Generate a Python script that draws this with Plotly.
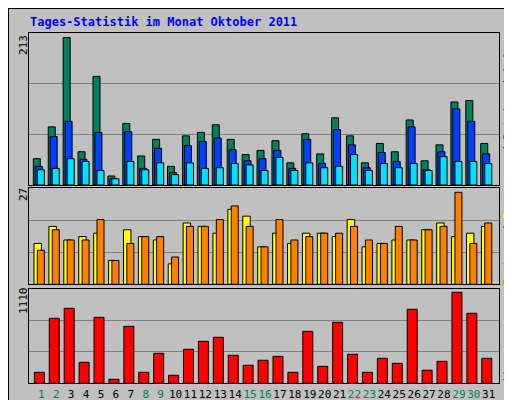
import plotly.graph_objects as go

days = list(range(1, 32))
weekend = [1, 2, 8, 9, 15, 16, 22, 23, 29, 30]
anfragen = [38,84,213,48,157,13,89,42,66,27,71,76,87,66,44,50,64,32,74,45,97,71,32,60,48,94,35,58,120,122,60]
dateien = [27,70,92,37,76,9,77,24,53,18,57,63,68,51,35,38,50,24,66,31,80,58,25,47,34,84,22,48,110,92,45]
seiten = [22,24,38,34,21,9,34,22,32,15,32,24,25,31,29,21,40,21,32,25,27,44,21,31,25,31,21,41,34,34,31]
besuche = [12,17,13,14,15,7,16,14,13,6,18,17,15,22,20,11,15,12,15,15,14,19,11,12,13,13,16,18,14,15,17]
rechner = [10,16,13,13,19,7,12,14,14,8,17,17,19,23,17,11,19,13,14,15,15,17,13,12,17,13,16,17,27,12,18]
kb = [134,793,915,256,805,49,695,134,366,98,415,512,561,342,220,281,329,134,634,207,744,354,134,305,244,903,159,268,1110,854,305]

W, H = 512, 400
def px(y): return 1 - y / H
def pxx(x): return x / W

fig = go.Figure()
line = dict(color="black", width=1)
def bars(vals, off, width, color, xa, ya):
    fig.add_trace(go.Bar(x=[d + off for d in days], y=vals, width=width,
                         marker=dict(color=color, line=line), xaxis=xa, yaxis=ya,
                         showlegend=False, hoverinfo="skip"))

bars(anfragen, -0.30, 0.47, "#00805c", "x", "y")
bars(dateien, -0.17, 0.47, "#0040ff", "x", "y")
bars(seiten, -0.03, 0.47, "#00e0ff", "x", "y")
bars(besuche, -0.24, 0.5, "#ffff00", "x2", "y2")
bars(rechner, -0.03, 0.47, "#ff8000", "x2", "y2")
bars(kb, -0.13, 0.67, "#ff0000", "x3", "y3")

xr = [0.155, 31.67]
xdom = [pxx(20.7), pxx(490.7)]
ticktext = [f'<span style="color:{"#00805c" if d in weekend else "black"}">{d}</span>' for d in days]
common_x = dict(range=xr, domain=xdom, showgrid=False, zeroline=False, showline=True,
                linecolor="black", mirror=True, fixedrange=True)
fig.update_layout(
    width=W, height=H, margin=dict(l=0, r=0, t=0, b=0),
    paper_bgcolor="#c0c0c0", plot_bgcolor="#c0c0c0", barmode="overlay",
    font=dict(family="DejaVu Sans Mono", size=11, color="black"),
    xaxis=dict(**common_x, anchor="y", showticklabels=False),
    xaxis2=dict(**common_x, anchor="y2", showticklabels=False),
    xaxis3=dict(**common_x, anchor="y3", tickmode="array", tickvals=days, ticktext=ticktext,
                ticks="", tickangle=0, tickfont=dict(size=11)),
    yaxis=dict(domain=[px(177), px(25)], range=[0, 213 * 152 / 147.4], tickmode="array",
               tickvals=[213 * 152 / 147.4 / 3, 2 * 213 * 152 / 147.4 / 3], showticklabels=False,
               gridcolor="#808080", zeroline=False, showline=True, linecolor="black", mirror=True),
    yaxis2=dict(domain=[px(276.3), px(180.3)], range=[0, 27 * 96 / 92], tickmode="array",
                tickvals=[27 * 96 / 92 / 3, 2 * 27 * 96 / 92 / 3], showticklabels=False,
                gridcolor="#808080", zeroline=False, showline=True, linecolor="black", mirror=True),
    yaxis3=dict(domain=[px(375.3), px(281)], range=[0, 1110 * 94.3 / 91], tickmode="array",
                tickvals=[1110 * 94.3 / 91 / 3, 2 * 1110 * 94.3 / 91 / 3], showticklabels=False,
                gridcolor="#808080", zeroline=False, showline=True, linecolor="black", mirror=True),
)

ann = []
ann.append(dict(x=pxx(20), y=px(14), xanchor="left", yanchor="middle",
                text="<b>Tages-Statistik im Monat Oktober 2011</b>",
                font=dict(color="#0000ff", size=12)))
for txt, yc in [("213", 37), ("27", 187), ("1110", 293)]:
    ann.append(dict(x=pxx(15), y=px(yc), xanchor="center", yanchor="middle", textangle=-90, text=txt))
sl = '<span style="color:black"> / </span>'
ann.append(dict(x=pxx(499), y=px(102), xanchor="center", yanchor="middle", textangle=-90,
                text='<span style="color:#00e0ff">Seiten</span>' + sl +
                     '<span style="color:#0040ff">Dateien</span>' + sl +
                     '<span style="color:#00805c">Anfragen</span>'))
ann.append(dict(x=pxx(499), y=px(221), xanchor="center", yanchor="middle", textangle=-90,
                text='<span style="color:#ff8000">Rechner</span>' + sl +
                     '<span style="color:#ffff00">Besuche</span>'))
ann.append(dict(x=pxx(499), y=px(367), xanchor="center", yanchor="middle", textangle=-90,
                text='<span style="color:#ff0000">kb</span>'))
for a in ann:
    a.update(xref="paper", yref="paper", showarrow=False)
fig.update_layout(annotations=ann)
fig.add_shape(type="rect", xref="paper", yref="paper", x0=0, y0=0, x1=1, y1=1,
              line=dict(color="black", width=2))
fig.write_html("out.html")
